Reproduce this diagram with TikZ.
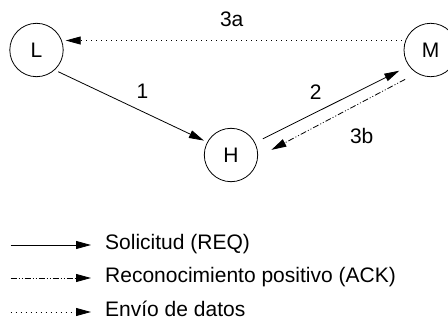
\documentclass[tikz,border=0pt]{standalone}
\usepackage{fontspec}
\setmainfont{Liberation Sans}
\usetikzlibrary{arrows.meta}

\tikzset{
  station/.style={draw,circle,line width=.8pt,minimum size=53.4pt,inner sep=0pt,outer sep=4pt},
  req/.style={line width=.8pt,-{Triangle[length=15pt,width=8pt]}},
  ack/.style={req,dash pattern=on 6pt off 2pt on 1pt off 2pt on 1pt off 2pt},
  datos/.style={req,dash pattern=on 1pt off 4pt},
}

\begin{document}
\begin{tikzpicture}[x=1pt,y=-1pt,font=\fontsize{21pt}{24pt}\selectfont]
        \useasboundingbox (0,0) rectangle (448,324);

        % stations
        \node [station] (L) at (36.5,50) {L};
        \node [station] (H) at (231,155) {H};
        \node [station] (M) at (430.7,50) {M};

        % requests
        \draw [req] (L.-45) -- (H.152);
        \draw [req,shorten <=5pt,shorten >=7pt] (H.27) -- (M.215);
        \node (n1) at (142.5,91.7) {1};
        \node (n2) at (315.8,91.7) {2};

        % ack
        \draw [ack,shorten <=9pt,shorten >=11pt] (M.235) -- (H.0);
        \node (n3b) at (361.7,135.8) {3b};

        % data
        \draw [datos] (M.162) -- (L.18);
        \node (n3a) at (231.7,19) {3a};

        % legend
        \foreach \y/\s/\t in {245/req/{Solicitud (REQ)},278/ack/{Reconocimiento positivo (ACK)},312/datos/{Envío de datos}} {
          \coordinate (\s-ini) at (10.5,\y);
          \coordinate (\s-fin) at (91,\y);
          \draw [\s] (\s-ini) -- (\s-fin);
          \node [anchor=base west,inner sep=0pt] (\s-txt) at (105,\y+4.6) {\t};
        }

\end{tikzpicture}
\end{document}
